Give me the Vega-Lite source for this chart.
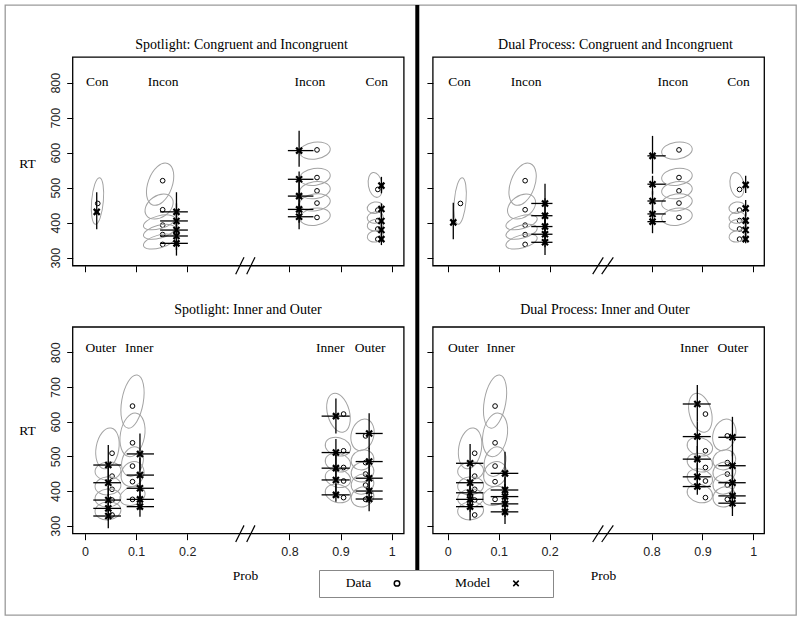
{
  "$schema": "https://vega.github.io/schema/vega-lite/v6.json",
  "width": 791,
  "height": 610,
  "autosize": {"type": "none"},
  "padding": {"left": 5, "top": 5, "right": 4, "bottom": 4},
  "background": "white",
  "config": {
    "view": {"stroke": "#9a9a9a", "strokeWidth": 1.3},
    "axis": {"domain": false, "grid": false, "tickColor": "black", "tickWidth": 1, "tickSize": 6, "labelFont": "Liberation Sans", "labelFontSize": 12.5, "labelColor": "#222", "labelFlush": false, "labelOverlap": false, "titleFont": "Liberation Serif", "titleFontSize": 13.5, "titleFontWeight": "normal", "titleColor": "black"},
    "legend": {"orient": "none", "legendX": 314, "legendY": 565, "direction": "horizontal", "strokeColor": "#888", "padding": 6.25, "labelFont": "Liberation Serif", "labelFontSize": 13.5, "labelColor": "black", "labelAlign": "right", "labelOffset": -32.5, "symbolOffset": 65, "columnPadding": 41, "symbolStrokeColor": "black", "symbolFillColor": "transparent", "symbolStrokeWidth": 1.5, "symbolSize": 30, "titleOrient": "right", "titlePadding": 25, "titleFontSize": 13.5, "titleFont": "Liberation Serif"}
  },
  "datasets": {
    "obs": [
      {"cond": "CI", "prob": 0.025, "rt": 455},
      {"cond": "CI", "prob": 0.152, "rt": 520}, {"cond": "CI", "prob": 0.152, "rt": 437}, {"cond": "CI", "prob": 0.152, "rt": 393}, {"cond": "CI", "prob": 0.152, "rt": 366}, {"cond": "CI", "prob": 0.152, "rt": 338},
      {"cond": "CI", "prob": 0.854, "rt": 608}, {"cond": "CI", "prob": 0.854, "rt": 529}, {"cond": "CI", "prob": 0.854, "rt": 491}, {"cond": "CI", "prob": 0.854, "rt": 456}, {"cond": "CI", "prob": 0.854, "rt": 415},
      {"cond": "CI", "prob": 0.973, "rt": 495}, {"cond": "CI", "prob": 0.973, "rt": 436}, {"cond": "CI", "prob": 0.973, "rt": 406}, {"cond": "CI", "prob": 0.973, "rt": 382}, {"cond": "CI", "prob": 0.973, "rt": 353},
      {"cond": "IO", "prob": 0.053, "rt": 509}, {"cond": "IO", "prob": 0.053, "rt": 443}, {"cond": "IO", "prob": 0.053, "rt": 405}, {"cond": "IO", "prob": 0.053, "rt": 374}, {"cond": "IO", "prob": 0.053, "rt": 331},
      {"cond": "IO", "prob": 0.093, "rt": 645}, {"cond": "IO", "prob": 0.093, "rt": 539}, {"cond": "IO", "prob": 0.093, "rt": 472}, {"cond": "IO", "prob": 0.093, "rt": 427}, {"cond": "IO", "prob": 0.093, "rt": 376},
      {"cond": "IO", "prob": 0.906, "rt": 622}, {"cond": "IO", "prob": 0.906, "rt": 516}, {"cond": "IO", "prob": 0.906, "rt": 468}, {"cond": "IO", "prob": 0.906, "rt": 429}, {"cond": "IO", "prob": 0.906, "rt": 381},
      {"cond": "IO", "prob": 0.949, "rt": 559}, {"cond": "IO", "prob": 0.949, "rt": 482}, {"cond": "IO", "prob": 0.949, "rt": 449}, {"cond": "IO", "prob": 0.949, "rt": 417}, {"cond": "IO", "prob": 0.949, "rt": 376}
    ],
    "ellipses": [
      {"cond": "CI", "prob": 0.0245, "rt": 462, "len": 67, "ratio": 0.25, "tilt": 85},
      {"cond": "CI", "prob": 0.147, "rt": 510, "len": 63, "ratio": 0.55, "tilt": 70},
      {"cond": "CI", "prob": 0.145, "rt": 446, "len": 44, "ratio": 0.7, "tilt": 35},
      {"cond": "CI", "prob": 0.145, "rt": 401, "len": 46, "ratio": 0.4, "tilt": 15},
      {"cond": "CI", "prob": 0.145, "rt": 374, "len": 46, "ratio": 0.4, "tilt": 15},
      {"cond": "CI", "prob": 0.145, "rt": 346, "len": 46, "ratio": 0.4, "tilt": 15},
      {"cond": "CI", "prob": 0.85, "rt": 606, "len": 44, "ratio": 0.55, "tilt": 8},
      {"cond": "CI", "prob": 0.85, "rt": 531, "len": 44, "ratio": 0.55, "tilt": 8},
      {"cond": "CI", "prob": 0.85, "rt": 493, "len": 44, "ratio": 0.55, "tilt": 8},
      {"cond": "CI", "prob": 0.85, "rt": 458, "len": 44, "ratio": 0.55, "tilt": 8},
      {"cond": "CI", "prob": 0.85, "rt": 417, "len": 44, "ratio": 0.55, "tilt": 8},
      {"cond": "CI", "prob": 0.968, "rt": 508, "len": 36, "ratio": 0.55, "tilt": 100},
      {"cond": "CI", "prob": 0.968, "rt": 443, "len": 23, "ratio": 0.7, "tilt": 10},
      {"cond": "CI", "prob": 0.968, "rt": 415, "len": 23, "ratio": 0.7, "tilt": 10},
      {"cond": "CI", "prob": 0.968, "rt": 393, "len": 23, "ratio": 0.7, "tilt": 10},
      {"cond": "CI", "prob": 0.968, "rt": 361, "len": 23, "ratio": 0.7, "tilt": 10},
      {"cond": "IO", "prob": 0.044, "rt": 523, "len": 59, "ratio": 0.55, "tilt": 80},
      {"cond": "IO", "prob": 0.045, "rt": 458, "len": 37, "ratio": 0.7, "tilt": 5},
      {"cond": "IO", "prob": 0.045, "rt": 415, "len": 37, "ratio": 0.7, "tilt": 5},
      {"cond": "IO", "prob": 0.045, "rt": 380, "len": 37, "ratio": 0.7, "tilt": 5},
      {"cond": "IO", "prob": 0.045, "rt": 343, "len": 37, "ratio": 0.7, "tilt": 5},
      {"cond": "IO", "prob": 0.093, "rt": 658, "len": 77, "ratio": 0.4, "tilt": 80},
      {"cond": "IO", "prob": 0.093, "rt": 562, "len": 63, "ratio": 0.55, "tilt": 80},
      {"cond": "IO", "prob": 0.093, "rt": 485, "len": 43, "ratio": 0.7, "tilt": 75},
      {"cond": "IO", "prob": 0.093, "rt": 449, "len": 37, "ratio": 0.85, "tilt": 60},
      {"cond": "IO", "prob": 0.093, "rt": 386, "len": 37, "ratio": 0.7, "tilt": 20},
      {"cond": "IO", "prob": 0.896, "rt": 626, "len": 57, "ratio": 0.55, "tilt": 105},
      {"cond": "IO", "prob": 0.895, "rt": 528, "len": 37, "ratio": 0.7, "tilt": 165},
      {"cond": "IO", "prob": 0.895, "rt": 482, "len": 37, "ratio": 0.7, "tilt": 165},
      {"cond": "IO", "prob": 0.895, "rt": 437, "len": 37, "ratio": 0.7, "tilt": 165},
      {"cond": "IO", "prob": 0.895, "rt": 393, "len": 37, "ratio": 0.7, "tilt": 165},
      {"cond": "IO", "prob": 0.943, "rt": 562, "len": 46, "ratio": 0.7, "tilt": 75},
      {"cond": "IO", "prob": 0.943, "rt": 490, "len": 33, "ratio": 0.85, "tilt": 20},
      {"cond": "IO", "prob": 0.943, "rt": 455, "len": 33, "ratio": 0.85, "tilt": 20},
      {"cond": "IO", "prob": 0.943, "rt": 420, "len": 33, "ratio": 0.85, "tilt": 20},
      {"cond": "IO", "prob": 0.943, "rt": 383, "len": 33, "ratio": 0.85, "tilt": 20}
    ],
    "model": [
      {"panel": "SCI", "prob": 0.023, "rt": 431, "plo": 0.019, "phi": 0.027, "rlo": 381, "rhi": 487},
      {"panel": "SCI", "prob": 0.179, "rt": 431, "plo": 0.147, "phi": 0.204, "rlo": 375, "rhi": 487},
      {"panel": "SCI", "prob": 0.179, "rt": 405, "plo": 0.147, "phi": 0.204, "rlo": 355, "rhi": 455},
      {"panel": "SCI", "prob": 0.179, "rt": 379, "plo": 0.147, "phi": 0.204, "rlo": 335, "rhi": 423},
      {"panel": "SCI", "prob": 0.179, "rt": 362, "plo": 0.147, "phi": 0.204, "rlo": 322, "rhi": 402},
      {"panel": "SCI", "prob": 0.179, "rt": 341, "plo": 0.147, "phi": 0.204, "rlo": 306, "rhi": 375},
      {"panel": "SCI", "prob": 0.819, "rt": 606, "plo": 0.791, "phi": 0.847, "rlo": 560, "rhi": 663},
      {"panel": "SCI", "prob": 0.819, "rt": 524, "plo": 0.791, "phi": 0.847, "rlo": 480, "rhi": 546},
      {"panel": "SCI", "prob": 0.819, "rt": 476, "plo": 0.791, "phi": 0.847, "rlo": 440, "rhi": 520},
      {"panel": "SCI", "prob": 0.819, "rt": 438, "plo": 0.791, "phi": 0.847, "rlo": 400, "rhi": 480},
      {"panel": "SCI", "prob": 0.819, "rt": 417, "plo": 0.791, "phi": 0.847, "rlo": 381, "rhi": 455},
      {"panel": "SCI", "prob": 0.98, "rt": 506, "plo": 0.977, "phi": 0.984, "rlo": 484, "rhi": 531},
      {"panel": "SCI", "prob": 0.98, "rt": 439, "plo": 0.977, "phi": 0.984, "rlo": 415, "rhi": 455},
      {"panel": "SCI", "prob": 0.98, "rt": 405, "plo": 0.977, "phi": 0.984, "rlo": 385, "rhi": 430},
      {"panel": "SCI", "prob": 0.98, "rt": 379, "plo": 0.977, "phi": 0.984, "rlo": 360, "rhi": 400},
      {"panel": "SCI", "prob": 0.98, "rt": 353, "plo": 0.977, "phi": 0.984, "rlo": 336, "rhi": 370},
      {"panel": "DCI", "prob": 0.011, "rt": 401, "plo": 0.007, "phi": 0.015, "rlo": 353, "rhi": 457},
      {"panel": "DCI", "prob": 0.191, "rt": 455, "plo": 0.164, "phi": 0.217, "rlo": 400, "rhi": 511},
      {"panel": "DCI", "prob": 0.191, "rt": 420, "plo": 0.164, "phi": 0.217, "rlo": 375, "rhi": 470},
      {"panel": "DCI", "prob": 0.191, "rt": 389, "plo": 0.164, "phi": 0.217, "rlo": 350, "rhi": 430},
      {"panel": "DCI", "prob": 0.191, "rt": 367, "plo": 0.164, "phi": 0.217, "rlo": 330, "rhi": 410},
      {"panel": "DCI", "prob": 0.191, "rt": 344, "plo": 0.164, "phi": 0.217, "rlo": 308, "rhi": 385},
      {"panel": "DCI", "prob": 0.802, "rt": 591, "plo": 0.776, "phi": 0.828, "rlo": 540, "rhi": 648},
      {"panel": "DCI", "prob": 0.802, "rt": 510, "plo": 0.776, "phi": 0.828, "rlo": 480, "rhi": 534},
      {"panel": "DCI", "prob": 0.802, "rt": 462, "plo": 0.776, "phi": 0.828, "rlo": 435, "rhi": 490},
      {"panel": "DCI", "prob": 0.802, "rt": 425, "plo": 0.776, "phi": 0.828, "rlo": 395, "rhi": 455},
      {"panel": "DCI", "prob": 0.802, "rt": 403, "plo": 0.776, "phi": 0.828, "rlo": 370, "rhi": 430},
      {"panel": "DCI", "prob": 0.985, "rt": 508, "plo": 0.982, "phi": 0.988, "rlo": 485, "rhi": 534},
      {"panel": "DCI", "prob": 0.985, "rt": 441, "plo": 0.982, "phi": 0.988, "rlo": 420, "rhi": 465},
      {"panel": "DCI", "prob": 0.985, "rt": 406, "plo": 0.982, "phi": 0.988, "rlo": 385, "rhi": 430},
      {"panel": "DCI", "prob": 0.985, "rt": 379, "plo": 0.982, "phi": 0.988, "rlo": 360, "rhi": 400},
      {"panel": "DCI", "prob": 0.985, "rt": 353, "plo": 0.982, "phi": 0.988, "rlo": 341, "rhi": 370},
      {"panel": "SIO", "prob": 0.0456, "rt": 475, "plo": 0.0163, "phi": 0.0704, "rlo": 430, "rhi": 533},
      {"panel": "SIO", "prob": 0.0456, "rt": 424, "plo": 0.0163, "phi": 0.0704, "rlo": 385, "rhi": 470},
      {"panel": "SIO", "prob": 0.0456, "rt": 374, "plo": 0.0163, "phi": 0.0704, "rlo": 340, "rhi": 415},
      {"panel": "SIO", "prob": 0.0456, "rt": 350, "plo": 0.0163, "phi": 0.0704, "rlo": 315, "rhi": 390},
      {"panel": "SIO", "prob": 0.0456, "rt": 328, "plo": 0.0163, "phi": 0.0704, "rlo": 293, "rhi": 365},
      {"panel": "SIO", "prob": 0.1076, "rt": 507, "plo": 0.0816, "phi": 0.135, "rlo": 460, "rhi": 566},
      {"panel": "SIO", "prob": 0.1076, "rt": 446, "plo": 0.0816, "phi": 0.135, "rlo": 400, "rhi": 495},
      {"panel": "SIO", "prob": 0.1076, "rt": 408, "plo": 0.0816, "phi": 0.135, "rlo": 370, "rhi": 450},
      {"panel": "SIO", "prob": 0.1076, "rt": 376, "plo": 0.0816, "phi": 0.135, "rlo": 345, "rhi": 415},
      {"panel": "SIO", "prob": 0.1076, "rt": 355, "plo": 0.0816, "phi": 0.135, "rlo": 326, "rhi": 390},
      {"panel": "SIO", "prob": 0.891, "rt": 616, "plo": 0.863, "phi": 0.918, "rlo": 566, "rhi": 667},
      {"panel": "SIO", "prob": 0.891, "rt": 511, "plo": 0.863, "phi": 0.918, "rlo": 470, "rhi": 550},
      {"panel": "SIO", "prob": 0.891, "rt": 466, "plo": 0.863, "phi": 0.918, "rlo": 430, "rhi": 505},
      {"panel": "SIO", "prob": 0.891, "rt": 432, "plo": 0.863, "phi": 0.918, "rlo": 395, "rhi": 470},
      {"panel": "SIO", "prob": 0.891, "rt": 389, "plo": 0.863, "phi": 0.918, "rlo": 369, "rhi": 420},
      {"panel": "SIO", "prob": 0.956, "rt": 566, "plo": 0.9296, "phi": 0.9825, "rlo": 520, "rhi": 624},
      {"panel": "SIO", "prob": 0.956, "rt": 485, "plo": 0.9296, "phi": 0.9825, "rlo": 440, "rhi": 525},
      {"panel": "SIO", "prob": 0.956, "rt": 437, "plo": 0.9296, "phi": 0.9825, "rlo": 400, "rhi": 480},
      {"panel": "SIO", "prob": 0.956, "rt": 400, "plo": 0.9296, "phi": 0.9825, "rlo": 365, "rhi": 440},
      {"panel": "SIO", "prob": 0.956, "rt": 377, "plo": 0.9296, "phi": 0.9825, "rlo": 342, "rhi": 410},
      {"panel": "DIO", "prob": 0.044, "rt": 480, "plo": 0.0163, "phi": 0.07, "rlo": 430, "rhi": 536},
      {"panel": "DIO", "prob": 0.044, "rt": 424, "plo": 0.0163, "phi": 0.07, "rlo": 380, "rhi": 470},
      {"panel": "DIO", "prob": 0.044, "rt": 395, "plo": 0.0163, "phi": 0.07, "rlo": 355, "rhi": 440},
      {"panel": "DIO", "prob": 0.044, "rt": 376, "plo": 0.0163, "phi": 0.07, "rlo": 340, "rhi": 415},
      {"panel": "DIO", "prob": 0.044, "rt": 355, "plo": 0.0163, "phi": 0.07, "rlo": 316, "rhi": 395},
      {"panel": "DIO", "prob": 0.1125, "rt": 451, "plo": 0.0844, "phi": 0.1386, "rlo": 400, "rhi": 513},
      {"panel": "DIO", "prob": 0.1125, "rt": 403, "plo": 0.0844, "phi": 0.1386, "rlo": 365, "rhi": 440},
      {"panel": "DIO", "prob": 0.1125, "rt": 384, "plo": 0.0844, "phi": 0.1386, "rlo": 345, "rhi": 420},
      {"panel": "DIO", "prob": 0.1125, "rt": 363, "plo": 0.0844, "phi": 0.1386, "rlo": 325, "rhi": 400},
      {"panel": "DIO", "prob": 0.1125, "rt": 340, "plo": 0.0844, "phi": 0.1386, "rlo": 305, "rhi": 375},
      {"panel": "DIO", "prob": 0.89, "rt": 651, "plo": 0.8614, "phi": 0.9164, "rlo": 600, "rhi": 706},
      {"panel": "DIO", "prob": 0.89, "rt": 557, "plo": 0.8614, "phi": 0.9164, "rlo": 510, "rhi": 600},
      {"panel": "DIO", "prob": 0.89, "rt": 492, "plo": 0.8614, "phi": 0.9164, "rlo": 450, "rhi": 530},
      {"panel": "DIO", "prob": 0.89, "rt": 441, "plo": 0.8614, "phi": 0.9164, "rlo": 405, "rhi": 480},
      {"panel": "DIO", "prob": 0.89, "rt": 413, "plo": 0.8614, "phi": 0.9164, "rlo": 389, "rhi": 445},
      {"panel": "DIO", "prob": 0.959, "rt": 555, "plo": 0.9313, "phi": 0.9851, "rlo": 500, "rhi": 614},
      {"panel": "DIO", "prob": 0.959, "rt": 473, "plo": 0.9313, "phi": 0.9851, "rlo": 430, "rhi": 515},
      {"panel": "DIO", "prob": 0.959, "rt": 424, "plo": 0.9313, "phi": 0.9851, "rlo": 385, "rhi": 465},
      {"panel": "DIO", "prob": 0.959, "rt": 386, "plo": 0.9313, "phi": 0.9851, "rlo": 350, "rhi": 425},
      {"panel": "DIO", "prob": 0.959, "rt": 365, "plo": 0.9313, "phi": 0.9851, "rlo": 328, "rhi": 400}
    ],
    "labels": [
      {"panel": "SCI", "prob": 0.024, "rt": 803, "text": "Con"}, {"panel": "SCI", "prob": 0.153, "rt": 803, "text": "Incon"}, {"panel": "SCI", "prob": 0.84, "rt": 803, "text": "Incon"}, {"panel": "SCI", "prob": 0.971, "rt": 803, "text": "Con"},
      {"panel": "DCI", "prob": 0.023, "rt": 803, "text": "Con"}, {"panel": "DCI", "prob": 0.154, "rt": 803, "text": "Incon"}, {"panel": "DCI", "prob": 0.842, "rt": 803, "text": "Incon"}, {"panel": "DCI", "prob": 0.971, "rt": 803, "text": "Con"},
      {"panel": "SIO", "prob": 0.031, "rt": 812, "text": "Outer"}, {"panel": "SIO", "prob": 0.106, "rt": 812, "text": "Inner"}, {"panel": "SIO", "prob": 0.88, "rt": 812, "text": "Inner"}, {"panel": "SIO", "prob": 0.958, "rt": 812, "text": "Outer"},
      {"panel": "DIO", "prob": 0.031, "rt": 812, "text": "Outer"}, {"panel": "DIO", "prob": 0.104, "rt": 812, "text": "Inner"}, {"panel": "DIO", "prob": 0.884, "rt": 812, "text": "Inner"}, {"panel": "DIO", "prob": 0.96, "rt": 812, "text": "Outer"}
    ],
    "titles": [
      {"panel": "SCI", "prob": 0.519, "rt": 908, "text": "Spotlight: Congruent and Incongruent"},
      {"panel": "DCI", "prob": 0.588, "rt": 908, "text": "Dual Process: Congruent and Incongruent"},
      {"panel": "SIO", "prob": 0.557, "rt": 922, "text": "Spotlight: Inner and Outer"},
      {"panel": "DIO", "prob": 0.526, "rt": 922, "text": "Dual Process: Inner and Outer"}
    ],
    "breaks": [
      {"panel": "SCI", "p1": 0.4847, "p2": 0.5335, "r1": 253, "r2": 301}, {"panel": "SCI", "p1": 0.5493, "p2": 0.598, "r1": 253, "r2": 301},
      {"panel": "SIO", "p1": 0.4847, "p2": 0.5335, "r1": 253, "r2": 301}, {"panel": "SIO", "p1": 0.5493, "p2": 0.598, "r1": 253, "r2": 301},
      {"panel": "DCI", "p1": 0.4538, "p2": 0.5162, "r1": 253, "r2": 301}, {"panel": "DCI", "p1": 0.5068, "p2": 0.5751, "r1": 253, "r2": 301},
      {"panel": "DIO", "p1": 0.4538, "p2": 0.5162, "r1": 253, "r2": 301}, {"panel": "DIO", "p1": 0.5068, "p2": 0.5751, "r1": 253, "r2": 301}
    ]
  },
  "layer": [
    {
      "layer": [
        {"data": {"values": [{}]}, "mark": {"type": "rect", "fill": "transparent", "stroke": "black", "strokeWidth": 1.3},
         "encoding": {
           "x": {"datum": -0.024, "type": "quantitative", "scale": {"type": "linear", "domain": [-0.024, 0.2, 0.8, 1.024], "range": [67.7, 182.2, 284.4, 398.9], "nice": false, "zero": false}, "axis": {"orient": "bottom", "offset": -349.25, "values": [0, 0.1, 0.2, 0.8, 0.9, 1], "labels": false, "title": null}},
           "x2": {"datum": 1.024},
           "y": {"datum": 277, "type": "quantitative", "scale": {"type": "linear", "domain": [277, 873], "range": [260.75, 52.15], "nice": false, "zero": false}, "axis": {"orient": "left", "offset": -67.7, "values": [300, 400, 500, 600, 700, 800], "format": "d", "labelAngle": 270, "labelAlign": "center", "labelBaseline": "bottom", "labelPadding": 4.5, "title": "RT", "titleAngle": 0, "titleX": -45.7, "titleY": 158, "titleAlign": "center", "titleBaseline": "middle"}},
           "y2": {"datum": 873}}},
        {"data": {"name": "obs"}, "transform": [{"filter": "datum.cond === 'CI'"}], "mark": {"type": "point", "filled": false, "stroke": "black", "strokeWidth": 1, "size": 22, "opacity": 1},
         "encoding": {"x": {"field": "prob", "type": "quantitative"}, "y": {"field": "rt", "type": "quantitative"},
                      "shape": {"datum": "Data", "type": "nominal", "scale": {"domain": ["Data", "Model", 0.25, 0.4, 0.55, 0.7, 0.85], "range": ["circle", "M-1,-1L1,1M-1,1L1,-1", "M1,0C1,0.138,0.552,0.25,0,0.25C-0.552,0.25,-1,0.138,-1,0C-1,-0.138,-0.552,-0.25,0,-0.25C0.552,-0.25,1,-0.138,1,0Z", "M1,0C1,0.221,0.552,0.4,0,0.4C-0.552,0.4,-1,0.221,-1,0C-1,-0.221,-0.552,-0.4,0,-0.4C0.552,-0.4,1,-0.221,1,0Z", "M1,0C1,0.304,0.552,0.55,0,0.55C-0.552,0.55,-1,0.304,-1,0C-1,-0.304,-0.552,-0.55,0,-0.55C0.552,-0.55,1,-0.304,1,0Z", "M1,0C1,0.386,0.552,0.7,0,0.7C-0.552,0.7,-1,0.386,-1,0C-1,-0.386,-0.552,-0.7,0,-0.7C0.552,-0.7,1,-0.386,1,0Z", "M1,0C1,0.469,0.552,0.85,0,0.85C-0.552,0.85,-1,0.469,-1,0C-1,-0.469,-0.552,-0.85,0,-0.85C0.552,-0.85,1,-0.469,1,0Z"]}, "legend": {"values": ["Data", "Model"], "title": "\u00a0"}}}},
        {"data": {"name": "ellipses"}, "transform": [{"filter": "datum.cond === 'CI'"}], "mark": {"type": "point", "filled": false, "stroke": "#a3a3a3", "strokeWidth": 1, "opacity": 1},
         "encoding": {"x": {"field": "prob", "type": "quantitative"}, "y": {"field": "rt", "type": "quantitative"},
                      "shape": {"field": "ratio", "type": "nominal"},
                      "size": {"field": "len", "type": "quantitative", "scale": {"type": "pow", "exponent": 2, "domain": [0, 100], "range": [0, 4900], "zero": true}, "legend": null},
                      "angle": {"field": "tilt", "type": "quantitative", "scale": {"domain": [-180, 180], "range": [180, -180]}, "legend": null}}},
        {"data": {"name": "model"}, "transform": [{"filter": "datum.panel === 'SCI'"}], "mark": {"type": "rule", "stroke": "black", "strokeWidth": 1.3}, "encoding": {"x": {"field": "plo", "type": "quantitative"}, "x2": {"field": "phi"}, "y": {"field": "rt", "type": "quantitative"}}},
        {"data": {"name": "model"}, "transform": [{"filter": "datum.panel === 'SCI'"}], "mark": {"type": "rule", "stroke": "black", "strokeWidth": 1.3}, "encoding": {"x": {"field": "prob", "type": "quantitative"}, "y": {"field": "rlo", "type": "quantitative"}, "y2": {"field": "rhi"}}},
        {"data": {"name": "model"}, "transform": [{"filter": "datum.panel === 'SCI'"}], "mark": {"type": "point", "filled": false, "stroke": "black", "strokeWidth": 2.2, "size": 36, "opacity": 1},
         "encoding": {"x": {"field": "prob", "type": "quantitative"}, "y": {"field": "rt", "type": "quantitative"}, "shape": {"datum": "Model", "type": "nominal"}}},
        {"data": {"name": "labels"}, "transform": [{"filter": "datum.panel === 'SCI'"}], "mark": {"type": "text", "font": "Liberation Serif", "fontSize": 13.5, "align": "center", "baseline": "middle", "color": "black"}, "encoding": {"x": {"field": "prob", "type": "quantitative"}, "y": {"field": "rt", "type": "quantitative"}, "text": {"field": "text"}}},
        {"data": {"name": "titles"}, "transform": [{"filter": "datum.panel === 'SCI'"}], "mark": {"type": "text", "font": "Liberation Serif", "fontSize": 14, "align": "center", "baseline": "middle", "color": "black"}, "encoding": {"x": {"field": "prob", "type": "quantitative"}, "y": {"field": "rt", "type": "quantitative"}, "text": {"field": "text"}}},
        {"data": {"name": "breaks"}, "transform": [{"filter": "datum.panel === 'SCI'"}], "mark": {"type": "rule", "stroke": "black", "strokeWidth": 1.2}, "encoding": {"x": {"field": "p1", "type": "quantitative"}, "x2": {"field": "p2"}, "y": {"field": "r1", "type": "quantitative"}, "y2": {"field": "r2"}}},
        {"data": {"values": [{}]}, "mark": {"type": "rule", "stroke": "black", "strokeWidth": 4}, "encoding": {"x": {"datum": 1.0502, "type": "quantitative"}, "y": {"datum": 1022, "type": "quantitative"}, "y2": {"datum": -592}}}
      ]
    },
    {
      "layer": [
        {"data": {"values": [{}]}, "mark": {"type": "rect", "fill": "transparent", "stroke": "black", "strokeWidth": 1.3},
         "encoding": {
           "x": {"datum": -0.029, "type": "quantitative", "scale": {"type": "linear", "domain": [-0.029, 0.2, 0.8, 1.0216], "range": [427.9, 544.6, 646.5, 759.3], "nice": false, "zero": false}, "axis": {"orient": "bottom", "offset": -349.25, "values": [0, 0.1, 0.2, 0.8, 0.9, 1], "labels": false, "title": null}},
           "x2": {"datum": 1.0216},
           "y": {"datum": 277, "type": "quantitative", "scale": {"type": "linear", "domain": [277, 873], "range": [260.75, 52.15], "nice": false, "zero": false}, "axis": {"orient": "left", "offset": -427.9, "values": [300, 400, 500, 600, 700, 800], "labels": false, "title": null}},
           "y2": {"datum": 873}}},
        {"data": {"name": "obs"}, "transform": [{"filter": "datum.cond === 'CI'"}], "mark": {"type": "point", "filled": false, "stroke": "black", "strokeWidth": 1, "size": 22, "opacity": 1},
         "encoding": {"x": {"field": "prob", "type": "quantitative"}, "y": {"field": "rt", "type": "quantitative"}, "shape": {"datum": "Data", "type": "nominal"}}},
        {"data": {"name": "ellipses"}, "transform": [{"filter": "datum.cond === 'CI'"}], "mark": {"type": "point", "filled": false, "stroke": "#a3a3a3", "strokeWidth": 1, "opacity": 1},
         "encoding": {"x": {"field": "prob", "type": "quantitative"}, "y": {"field": "rt", "type": "quantitative"},
                      "shape": {"field": "ratio", "type": "nominal"},
                      "size": {"field": "len", "type": "quantitative", "scale": {"type": "pow", "exponent": 2, "domain": [0, 100], "range": [0, 4900], "zero": true}, "legend": null},
                      "angle": {"field": "tilt", "type": "quantitative", "scale": {"domain": [-180, 180], "range": [180, -180]}, "legend": null}}},
        {"data": {"name": "model"}, "transform": [{"filter": "datum.panel === 'DCI'"}], "mark": {"type": "rule", "stroke": "black", "strokeWidth": 1.3}, "encoding": {"x": {"field": "plo", "type": "quantitative"}, "x2": {"field": "phi"}, "y": {"field": "rt", "type": "quantitative"}}},
        {"data": {"name": "model"}, "transform": [{"filter": "datum.panel === 'DCI'"}], "mark": {"type": "rule", "stroke": "black", "strokeWidth": 1.3}, "encoding": {"x": {"field": "prob", "type": "quantitative"}, "y": {"field": "rlo", "type": "quantitative"}, "y2": {"field": "rhi"}}},
        {"data": {"name": "model"}, "transform": [{"filter": "datum.panel === 'DCI'"}], "mark": {"type": "point", "filled": false, "stroke": "black", "strokeWidth": 2.2, "size": 36, "opacity": 1},
         "encoding": {"x": {"field": "prob", "type": "quantitative"}, "y": {"field": "rt", "type": "quantitative"}, "shape": {"datum": "Model", "type": "nominal"}}},
        {"data": {"name": "labels"}, "transform": [{"filter": "datum.panel === 'DCI'"}], "mark": {"type": "text", "font": "Liberation Serif", "fontSize": 13.5, "align": "center", "baseline": "middle", "color": "black"}, "encoding": {"x": {"field": "prob", "type": "quantitative"}, "y": {"field": "rt", "type": "quantitative"}, "text": {"field": "text"}}},
        {"data": {"name": "titles"}, "transform": [{"filter": "datum.panel === 'DCI'"}], "mark": {"type": "text", "font": "Liberation Serif", "fontSize": 14, "align": "center", "baseline": "middle", "color": "black"}, "encoding": {"x": {"field": "prob", "type": "quantitative"}, "y": {"field": "rt", "type": "quantitative"}, "text": {"field": "text"}}},
        {"data": {"name": "breaks"}, "transform": [{"filter": "datum.panel === 'DCI'"}], "mark": {"type": "rule", "stroke": "black", "strokeWidth": 1.2}, "encoding": {"x": {"field": "p1", "type": "quantitative"}, "x2": {"field": "p2"}, "y": {"field": "r1", "type": "quantitative"}, "y2": {"field": "r2"}}}
      ]
    },
    {
      "layer": [
        {"data": {"values": [{}]}, "mark": {"type": "rect", "fill": "transparent", "stroke": "black", "strokeWidth": 1.3},
         "encoding": {
           "x": {"datum": -0.024, "type": "quantitative", "scale": {"type": "linear", "domain": [-0.024, 0.2, 0.8, 1.024], "range": [67.7, 182.2, 284.4, 398.9], "nice": false, "zero": false}, "axis": {"orient": "bottom", "offset": -81.3, "values": [0, 0.1, 0.2, 0.8, 0.9, 1], "format": "~g", "labelPadding": 6, "title": "Prob", "titleX": 240, "titleY": 41.3, "titleAlign": "center", "titleBaseline": "middle"}},
           "x2": {"datum": 1.024},
           "y": {"datum": 277, "type": "quantitative", "scale": {"type": "linear", "domain": [277, 873], "range": [528.7, 322], "nice": false, "zero": false}, "axis": {"orient": "left", "offset": -67.7, "values": [300, 400, 500, 600, 700, 800], "format": "d", "labelAngle": 270, "labelAlign": "center", "labelBaseline": "bottom", "labelPadding": 4.5, "title": "RT", "titleAngle": 0, "titleX": -45.7, "titleY": 425, "titleAlign": "center", "titleBaseline": "middle"}},
           "y2": {"datum": 873}}},
        {"data": {"name": "obs"}, "transform": [{"filter": "datum.cond === 'IO'"}], "mark": {"type": "point", "filled": false, "stroke": "black", "strokeWidth": 1, "size": 22, "opacity": 1},
         "encoding": {"x": {"field": "prob", "type": "quantitative"}, "y": {"field": "rt", "type": "quantitative"}, "shape": {"datum": "Data", "type": "nominal"}}},
        {"data": {"name": "ellipses"}, "transform": [{"filter": "datum.cond === 'IO'"}], "mark": {"type": "point", "filled": false, "stroke": "#a3a3a3", "strokeWidth": 1, "opacity": 1},
         "encoding": {"x": {"field": "prob", "type": "quantitative"}, "y": {"field": "rt", "type": "quantitative"},
                      "shape": {"field": "ratio", "type": "nominal"},
                      "size": {"field": "len", "type": "quantitative", "scale": {"type": "pow", "exponent": 2, "domain": [0, 100], "range": [0, 4900], "zero": true}, "legend": null},
                      "angle": {"field": "tilt", "type": "quantitative", "scale": {"domain": [-180, 180], "range": [180, -180]}, "legend": null}}},
        {"data": {"name": "model"}, "transform": [{"filter": "datum.panel === 'SIO'"}], "mark": {"type": "rule", "stroke": "black", "strokeWidth": 1.3}, "encoding": {"x": {"field": "plo", "type": "quantitative"}, "x2": {"field": "phi"}, "y": {"field": "rt", "type": "quantitative"}}},
        {"data": {"name": "model"}, "transform": [{"filter": "datum.panel === 'SIO'"}], "mark": {"type": "rule", "stroke": "black", "strokeWidth": 1.3}, "encoding": {"x": {"field": "prob", "type": "quantitative"}, "y": {"field": "rlo", "type": "quantitative"}, "y2": {"field": "rhi"}}},
        {"data": {"name": "model"}, "transform": [{"filter": "datum.panel === 'SIO'"}], "mark": {"type": "point", "filled": false, "stroke": "black", "strokeWidth": 2.2, "size": 36, "opacity": 1},
         "encoding": {"x": {"field": "prob", "type": "quantitative"}, "y": {"field": "rt", "type": "quantitative"}, "shape": {"datum": "Model", "type": "nominal"}}},
        {"data": {"name": "labels"}, "transform": [{"filter": "datum.panel === 'SIO'"}], "mark": {"type": "text", "font": "Liberation Serif", "fontSize": 13.5, "align": "center", "baseline": "middle", "color": "black"}, "encoding": {"x": {"field": "prob", "type": "quantitative"}, "y": {"field": "rt", "type": "quantitative"}, "text": {"field": "text"}}},
        {"data": {"name": "titles"}, "transform": [{"filter": "datum.panel === 'SIO'"}], "mark": {"type": "text", "font": "Liberation Serif", "fontSize": 14, "align": "center", "baseline": "middle", "color": "black"}, "encoding": {"x": {"field": "prob", "type": "quantitative"}, "y": {"field": "rt", "type": "quantitative"}, "text": {"field": "text"}}},
        {"data": {"name": "breaks"}, "transform": [{"filter": "datum.panel === 'SIO'"}], "mark": {"type": "rule", "stroke": "black", "strokeWidth": 1.2}, "encoding": {"x": {"field": "p1", "type": "quantitative"}, "x2": {"field": "p2"}, "y": {"field": "r1", "type": "quantitative"}, "y2": {"field": "r2"}}}
      ]
    },
    {
      "layer": [
        {"data": {"values": [{}]}, "mark": {"type": "rect", "fill": "transparent", "stroke": "black", "strokeWidth": 1.3},
         "encoding": {
           "x": {"datum": -0.029, "type": "quantitative", "scale": {"type": "linear", "domain": [-0.029, 0.2, 0.8, 1.0216], "range": [427.9, 544.6, 646.5, 759.3], "nice": false, "zero": false}, "axis": {"orient": "bottom", "offset": -81.3, "values": [0, 0.1, 0.2, 0.8, 0.9, 1], "format": "~g", "labelPadding": 6, "title": "Prob", "titleX": 598, "titleY": 41.3, "titleAlign": "center", "titleBaseline": "middle"}},
           "x2": {"datum": 1.0216},
           "y": {"datum": 277, "type": "quantitative", "scale": {"type": "linear", "domain": [277, 873], "range": [528.7, 322], "nice": false, "zero": false}, "axis": {"orient": "left", "offset": -427.9, "values": [300, 400, 500, 600, 700, 800], "labels": false, "title": null}},
           "y2": {"datum": 873}}},
        {"data": {"name": "obs"}, "transform": [{"filter": "datum.cond === 'IO'"}], "mark": {"type": "point", "filled": false, "stroke": "black", "strokeWidth": 1, "size": 22, "opacity": 1},
         "encoding": {"x": {"field": "prob", "type": "quantitative"}, "y": {"field": "rt", "type": "quantitative"}, "shape": {"datum": "Data", "type": "nominal"}}},
        {"data": {"name": "ellipses"}, "transform": [{"filter": "datum.cond === 'IO'"}], "mark": {"type": "point", "filled": false, "stroke": "#a3a3a3", "strokeWidth": 1, "opacity": 1},
         "encoding": {"x": {"field": "prob", "type": "quantitative"}, "y": {"field": "rt", "type": "quantitative"},
                      "shape": {"field": "ratio", "type": "nominal"},
                      "size": {"field": "len", "type": "quantitative", "scale": {"type": "pow", "exponent": 2, "domain": [0, 100], "range": [0, 4900], "zero": true}, "legend": null},
                      "angle": {"field": "tilt", "type": "quantitative", "scale": {"domain": [-180, 180], "range": [180, -180]}, "legend": null}}},
        {"data": {"name": "model"}, "transform": [{"filter": "datum.panel === 'DIO'"}], "mark": {"type": "rule", "stroke": "black", "strokeWidth": 1.3}, "encoding": {"x": {"field": "plo", "type": "quantitative"}, "x2": {"field": "phi"}, "y": {"field": "rt", "type": "quantitative"}}},
        {"data": {"name": "model"}, "transform": [{"filter": "datum.panel === 'DIO'"}], "mark": {"type": "rule", "stroke": "black", "strokeWidth": 1.3}, "encoding": {"x": {"field": "prob", "type": "quantitative"}, "y": {"field": "rlo", "type": "quantitative"}, "y2": {"field": "rhi"}}},
        {"data": {"name": "model"}, "transform": [{"filter": "datum.panel === 'DIO'"}], "mark": {"type": "point", "filled": false, "stroke": "black", "strokeWidth": 2.2, "size": 36, "opacity": 1},
         "encoding": {"x": {"field": "prob", "type": "quantitative"}, "y": {"field": "rt", "type": "quantitative"}, "shape": {"datum": "Model", "type": "nominal"}}},
        {"data": {"name": "labels"}, "transform": [{"filter": "datum.panel === 'DIO'"}], "mark": {"type": "text", "font": "Liberation Serif", "fontSize": 13.5, "align": "center", "baseline": "middle", "color": "black"}, "encoding": {"x": {"field": "prob", "type": "quantitative"}, "y": {"field": "rt", "type": "quantitative"}, "text": {"field": "text"}}},
        {"data": {"name": "titles"}, "transform": [{"filter": "datum.panel === 'DIO'"}], "mark": {"type": "text", "font": "Liberation Serif", "fontSize": 14, "align": "center", "baseline": "middle", "color": "black"}, "encoding": {"x": {"field": "prob", "type": "quantitative"}, "y": {"field": "rt", "type": "quantitative"}, "text": {"field": "text"}}},
        {"data": {"name": "breaks"}, "transform": [{"filter": "datum.panel === 'DIO'"}], "mark": {"type": "rule", "stroke": "black", "strokeWidth": 1.2}, "encoding": {"x": {"field": "p1", "type": "quantitative"}, "x2": {"field": "p2"}, "y": {"field": "r1", "type": "quantitative"}, "y2": {"field": "r2"}}}
      ]
    }
  ],
  "resolve": {"scale": {"x": "independent", "y": "independent"}, "axis": {"x": "independent", "y": "independent"}}
}
